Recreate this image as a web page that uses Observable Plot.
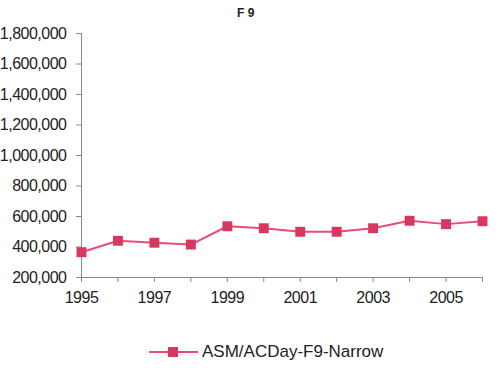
<!DOCTYPE html>
<html>
<head>
<meta charset="utf-8">
<script src="https://cdn.jsdelivr.net/npm/d3@7"></script>
<script src="https://cdn.jsdelivr.net/npm/@observablehq/plot@0.6"></script>
<style>
  html, body { margin: 0; padding: 0; background: #fff; }
  #wrap { width: 501px; height: 370px; position: relative; font-family: Arial, "Liberation Sans", sans-serif; }
  #title { height: 22px; position: relative; }
  #title span { position: absolute; left: 237px; top: 6px; font-size: 12px; font-weight: bold; color: #222; }
  #legend { height: 40px; position: relative; }
  #legend svg { position: absolute; left: 148px; top: 16px; }
  #legend span { position: absolute; left: 202px; top: 12px; font-size: 17px; color: #222; white-space: nowrap; }
</style>
</head>
<body>
<div id="wrap">
  <div id="title"><span>F 9</span></div>
  <div id="chart"></div>
  <div id="legend">
    <svg width="52" height="12"><line x1="1" y1="6" x2="50" y2="6" stroke="#ec4b77" stroke-width="2"/><rect x="20" y="1" width="10" height="10" fill="#d6385f"/></svg>
    <span>ASM/ACDay-F9-Narrow</span>
  </div>
</div>
<script>
const years = [1995, 1996, 1997, 1998, 1999, 2000, 2001, 2002, 2003, 2004, 2005, 2006];
const asmPerAcDay = [366000, 441000, 428000, 416000, 536000, 523000, 500000, 500000, 523000, 572000, 550000, 569000];
const yTicks = [200000, 400000, 600000, 800000, 1000000, 1200000, 1400000, 1600000, 1800000];
const seriesName = "ASM/ACDay-F9-Narrow";

const data = years.map((y, i) => ({year: y, value: asmPerAcDay[i], series: seriesName}));

const chart = Plot.plot({
  width: 501,
  height: 308,
  marginLeft: 81,
  marginRight: 19,
  marginTop: 11,
  marginBottom: 53,
  style: {fontFamily: "Arial, 'Liberation Sans', sans-serif", fontSize: "16px", color: "#222", background: "#fff"},
  x: {domain: [1995, 2006]},
  y: {domain: [200000, 1800000]},
  marks: [
    Plot.axisY({ticks: yTicks, tickFormat: d3.format(","), tickSize: 5, tickPadding: 10, stroke: "#888", label: null, fill: "#222", fontSize: 16}),
    Plot.axisX({ticks: years, tickFormat: d => d % 2 ? String(d) : "", tickSize: 5, tickPadding: 9, stroke: "#888", label: null, fill: "#222", fontSize: 16}),
    Plot.ruleX([1995], {y1: 200000, y2: 1800000, stroke: "#888"}),
    Plot.ruleY([200000], {x1: 1995, x2: 2006, stroke: "#888"}),
    Plot.line(data, {x: "year", y: "value", stroke: "#ec4b77", strokeWidth: 2}),
    Plot.dot(data, {x: "year", y: "value", symbol: "square", fill: "#d6385f", r: 5.6})
  ]
});
chart.querySelectorAll("text").forEach(t => t.style.letterSpacing = "-0.5px");
document.getElementById("chart").appendChild(chart);
</script>
</body>
</html>
